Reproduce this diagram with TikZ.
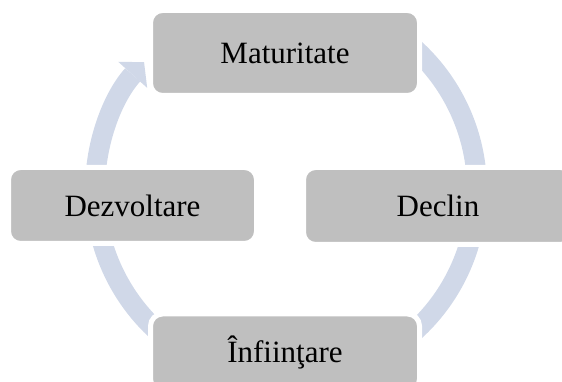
\documentclass[tikz,border=0pt]{standalone}
\usepackage{fontspec}
\setmainfont{Liberation Serif}
\usetikzlibrary{arrows.meta}

\definecolor{stagegray}{RGB}{191,191,191}
\definecolor{ringblue}{RGB}{208,216,232}

\begin{document}
\begin{tikzpicture}[x=1pt,y=1pt,
    stage/.style={rectangle, rounded corners=12pt, fill=stagegray, draw=white,
      line width=5pt, inner sep=0pt, font=\fontsize{31}{37}\selectfont},
    ring/.style={ringblue, line width=20pt}]
    % Frame
    \clip (0,0) rectangle (562,382);
    \coordinate (c) at (286,192);

    % Ring arrows (behind the stages)
    \draw[ring] ([shift={(60:191pt)}]c) arc[start angle=60, end angle=0, radius=191pt];
    \draw[ring] ([shift={(0:191pt)}]c) arc[start angle=0, end angle=-60, radius=191pt];
    \draw[ring] ([shift={(-120:191pt)}]c) arc[start angle=-120, end angle=-180, radius=191pt];
    \draw[ring, -{Triangle[width=39pt,length=17pt,line width=0pt]}]
      ([shift={(180:191pt)}]c) arc[start angle=180, end angle=138, radius=191pt];

    % Stages
    \node[stage, minimum width=269pt, minimum height=85pt] (matur) at (285,329) {Maturitate};
    \node[stage, minimum width=269pt, minimum height=77pt] (declin) at (438,176) {Declin};
    \node[stage, minimum width=269pt, minimum height=77pt] (infiint) at (285,29.5) {Înfiinţare};
    \node[stage, minimum width=248pt, minimum height=76pt] (dezv) at (132.5,176.5) {Dezvoltare};
\end{tikzpicture}
\end{document}
